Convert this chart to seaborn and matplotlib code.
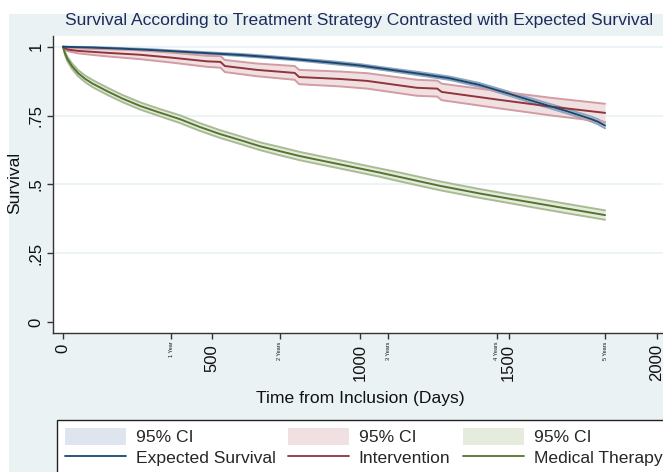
import numpy as np
import pandas as pd
import matplotlib
matplotlib.use("Agg")
import matplotlib.pyplot as plt
from matplotlib.patches import Patch
from matplotlib.lines import Line2D
import seaborn as sns

# expected survival
exp_days = [0, 100, 200, 300, 400, 500, 600, 700, 800, 900, 1000, 1100, 1200,
            1300, 1400, 1500, 1600, 1700, 1780, 1800, 1825]
exp_surv = [1.0, 0.997, 0.993, 0.988, 0.982, 0.976, 0.970, 0.962, 0.953, 0.943,
            0.932, 0.917, 0.902, 0.886, 0.862, 0.830, 0.797, 0.765, 0.737, 0.728, 0.714]
exp_ci = [0.0, 0.002, 0.002, 0.003, 0.003, 0.003, 0.004, 0.004, 0.004, 0.005,
          0.005, 0.005, 0.006, 0.006, 0.007, 0.007, 0.008, 0.008, 0.009, 0.009, 0.010]

# intervention
int_days = [0, 15, 50, 148, 259, 370, 485, 530, 545, 653, 780, 795, 933, 1024,
            1192, 1260, 1275, 1471, 1640, 1825]
int_surv = [1.0, 0.99, 0.985, 0.978, 0.971, 0.96, 0.947, 0.945, 0.93, 0.916,
            0.905, 0.89, 0.883, 0.876, 0.851, 0.848, 0.836, 0.807, 0.783, 0.76]
int_ci = [0.0, 0.006, 0.009, 0.013, 0.016, 0.018, 0.020, 0.021, 0.022, 0.023,
          0.025, 0.026, 0.027, 0.028, 0.029, 0.029, 0.030, 0.031, 0.032, 0.033]

# medical therapy
med_days = [0, 7, 15, 30, 50, 75, 100, 150, 200, 260, 320, 394, 460, 529, 600,
            663, 730, 798, 865, 933, 1000, 1067, 1135, 1202, 1270, 1400, 1500,
            1582, 1700, 1825]
med_surv = [1.0, 0.975, 0.955, 0.93, 0.905, 0.883, 0.866, 0.838, 0.812, 0.785,
            0.763, 0.737, 0.709, 0.683, 0.660, 0.639, 0.621, 0.603, 0.588, 0.573,
            0.558, 0.543, 0.527, 0.511, 0.495, 0.468, 0.449, 0.434, 0.412, 0.389]
med_ci = [0.0, 0.006, 0.008, 0.010, 0.011, 0.012, 0.013, 0.013, 0.013, 0.013,
          0.013, 0.014, 0.014, 0.014, 0.014, 0.014, 0.015, 0.015, 0.015, 0.015,
          0.015, 0.015, 0.016, 0.016, 0.016, 0.016, 0.016, 0.017, 0.017, 0.017]

year_ticks = [365, 730, 1095, 1460, 1825]
year_labels = ["1 Year", "2 Years", "3 Years", "4 Years", "5 Years"]

series = [
    ("Expected Survival", exp_days, exp_surv, exp_ci, "#1a476f", "#8ea5be", "#dfe5ee"),
    ("Intervention", int_days, int_surv, int_ci, "#90353b", "#d29ca2", "#f0e0e2"),
    ("Medical Therapy", med_days, med_surv, med_ci, "#55752f", "#a9bb95", "#e5ebdd"),
]

sns.set_theme(style="white")
plt.rcParams["font.family"] = ["Liberation Sans", "DejaVu Sans"]
FS = 12.6

W, H = 663, 472
fig = plt.figure(figsize=(W / 100, H / 100), dpi=100, facecolor="white")

# graph region background
bg = fig.add_axes([9 / W, 0, 1 - 9 / W, 1 - 14 / H], zorder=-1)
bg.set_facecolor("#eaf2f3")
bg.set_xticks([])
bg.set_yticks([])
for sp in bg.spines.values():
    sp.set_visible(False)

ax = fig.add_axes([53 / W, 1 - 333 / H, (W - 53) / W, (333 - 36) / H])
ax.set_facecolor("white")

for name, d, s, c, col, edge, fill in series:
    s = np.array(s)
    c = np.array(c)
    ax.fill_between(d, s - c, s + c, color=fill, lw=0, zorder=1)
    ax.plot(d, s - c, color=edge, lw=1.4, zorder=2)
    ax.plot(d, s + c, color=edge, lw=1.4, zorder=2)

for i in [2, 1, 0]:
    name, d, s, c, col, edge, fill = series[i]
    df = pd.DataFrame({"days": d, "surv": s})
    sns.lineplot(data=df, x="days", y="surv", color=col, lw=1.4, ax=ax,
                 estimator=None, sort=False, zorder=3)

ax.set_xlim(-33.7, 2020)
ax.set_ylim(-0.039, 1.039)
ax.set_xlabel("")
ax.set_ylabel("")

ax.set_yticks([0, 0.25, 0.5, 0.75, 1])
ax.set_yticklabels(["0", ".25", ".5", ".75", "1"], rotation=90, va="center")
ax.set_xticks([0, 500, 1000, 1500, 2000])
ax.set_xticklabels(["0", "500", "1000", "1500", "2000"], rotation=90)
ax.set_xticks(year_ticks, minor=True)
ax.set_xticklabels(year_labels, minor=True, rotation=90, fontsize=4)

for y in [0.25, 0.5, 0.75, 1]:
    ax.axhline(y, color="#eaf2f3", lw=1.2, zorder=0)

for sp in ["top", "right"]:
    ax.spines[sp].set_visible(False)
for sp in ["left", "bottom"]:
    ax.spines[sp].set_color("#333333")
    ax.spines[sp].set_linewidth(1.0)

ax.tick_params(axis="both", which="both", direction="out", length=4,
               width=1, color="#333333", labelsize=12, labelcolor="#111111",
               bottom=True, left=True)
ax.tick_params(axis="x", which="minor", labelsize=4, pad=2)
ax.tick_params(axis="x", which="major", pad=4)
ax.tick_params(axis="y", pad=3)

fig.text(359 / W, 1 - 20 / H, "Survival According to Treatment Strategy Contrasted with Expected Survival",
         ha="center", va="center", fontsize=FS, color="#1e2c5c")
fig.text(15 / W, 1 - 183 / H, "Survival", rotation=90, ha="center", va="center",
         fontsize=FS, color="#111111")
fig.text(360 / W, 1 - 398 / H, "Time from Inclusion (Days)", ha="center", va="center",
         fontsize=FS, color="#111111")

handles = []
labels = []
for name, d, s, c, col, edge, fill in series:
    handles.append(Patch(facecolor=fill, edgecolor="none"))
    labels.append("95% CI")
    handles.append(Line2D([], [], color=col, lw=1.3))
    labels.append(name)

leg = fig.legend(handles, labels, ncol=3, loc="upper left",
                 bbox_to_anchor=(57 / W, 1 - 420 / H),
                 frameon=True, fancybox=False, fontsize=FS, handlelength=3.5,
                 handleheight=1.1, handletextpad=0.55, columnspacing=0.7,
                 labelspacing=0.2, borderpad=0.45, borderaxespad=0)
leg.get_frame().set_edgecolor("#222222")
leg.get_frame().set_linewidth(1.0)
leg.get_frame().set_facecolor("white")
leg.get_frame().set_alpha(1.0)

fig.savefig("out.png", dpi=100, facecolor="white")
